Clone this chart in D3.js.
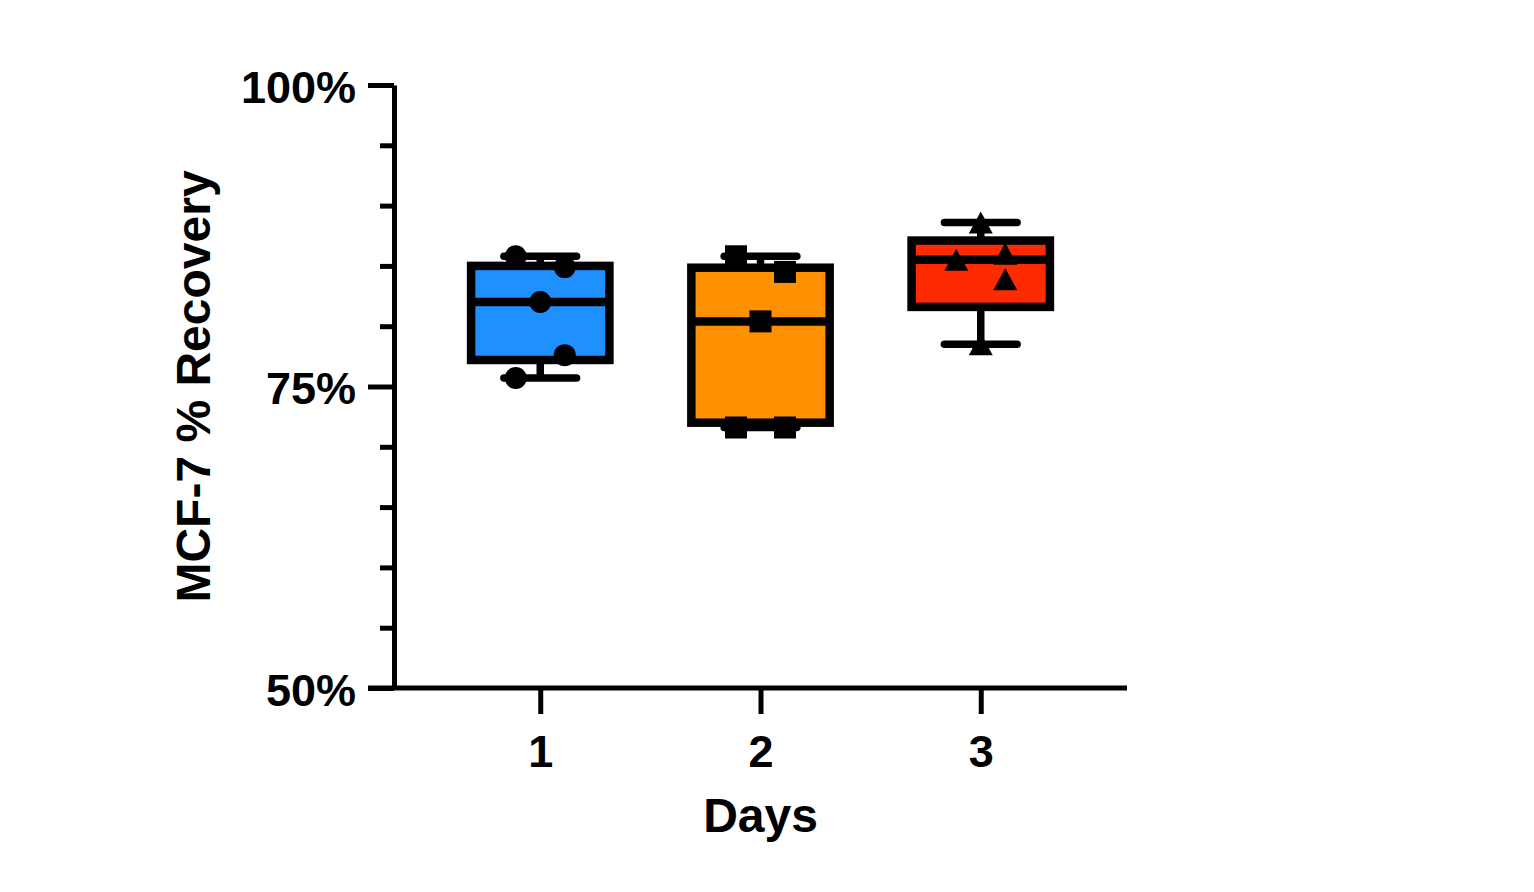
<!DOCTYPE html>
<html>
<head>
<meta charset="utf-8">
<script src="https://cdn.jsdelivr.net/npm/d3@7"></script>
<style>
  html, body { margin: 0; padding: 0; background: #fff; }
  svg { display: block; }
  text { font-family: "Liberation Sans", Arial, Helvetica, sans-serif; font-weight: bold; fill: #000; }
</style>
</head>
<body>
<svg id="chart" width="1534" height="892"></svg>
<script>
// ---------- data ----------
const days = ["1", "2", "3"];
// replicate values per day (percent recovery), in replicate order
const day1Values = [85.8, 84.9, 82.0, 75.7, 77.6];
const day2Values = [85.8, 84.5, 80.4, 71.6, 71.6];
const day3Values = [88.6, 85.5, 86.0, 83.9, 78.5];
// box edges (25th / 75th percentile) as drawn
const q1Values = [77.2, 72.0, 81.6];
const q3Values = [85.0, 84.85, 87.1];
const markerShapes = ["circle", "square", "triangle"];
const boxColors = ["#1E90FF", "#FF9100", "#FF2B00"];
const yMajorTicks = [50, 75, 100];
const yMinorTicks = [55, 60, 65, 70, 80, 85, 90, 95];
const yTitle = "MCF-7 % Recovery";
const xTitle = "Days";

const seriesValues = [day1Values, day2Values, day3Values];

// ---------- layout ----------
const svg = d3.select("#chart");
const plotTop = 85, plotBottom = 688, plotLeft = 394, plotRight = 1127;
const axisW = 5, majorLen = 26, minorLen = 14;
const boxStroke = 8.5, markerSize = 22;

const y = d3.scaleLinear().domain([50, 100]).range([plotBottom, plotTop]);
const x = d3.scalePoint().domain(days).range([plotLeft, plotRight]).padding(0.664);
const step = x.step();
const boxHalf = step * 0.314;
const capHalf = step * 0.165;
const swarmOffset = markerSize + 2.5;

// ---------- boxes ----------
const stats = days.map((d, i) => {
  const vals = seriesValues[i];
  return {
    day: d,
    color: boxColors[i],
    shape: markerShapes[i],
    values: vals,
    min: d3.min(vals),
    max: d3.max(vals),
    median: d3.median(vals),
    q1: q1Values[i],
    q3: q3Values[i]
  };
});

const g = svg.append("g");

stats.forEach(s => {
  const cx = x(s.day);
  const grp = g.append("g");
  // whiskers
  grp.append("line")
    .attr("x1", cx).attr("x2", cx)
    .attr("y1", y(s.max)).attr("y2", y(s.q3))
    .attr("stroke", "#000").attr("stroke-width", boxStroke - 1);
  grp.append("line")
    .attr("x1", cx).attr("x2", cx)
    .attr("y1", y(s.q1)).attr("y2", y(s.min))
    .attr("stroke", "#000").attr("stroke-width", boxStroke - 1);
  [s.max, s.min].forEach(v => {
    grp.append("line")
      .attr("x1", cx - capHalf).attr("x2", cx + capHalf)
      .attr("y1", y(v)).attr("y2", y(v))
      .attr("stroke", "#000").attr("stroke-width", boxStroke - 1)
      .attr("stroke-linecap", "round");
  });
  // box
  grp.append("rect")
    .attr("x", cx - boxHalf).attr("width", boxHalf * 2)
    .attr("y", y(s.q3)).attr("height", y(s.q1) - y(s.q3))
    .attr("fill", s.color)
    .attr("stroke", "#000").attr("stroke-width", boxStroke);
  // median
  grp.append("line")
    .attr("x1", cx - boxHalf).attr("x2", cx + boxHalf)
    .attr("y1", y(s.median)).attr("y2", y(s.median))
    .attr("stroke", "#000").attr("stroke-width", boxStroke);
});

// ---------- points (simple swarm: neighbours alternate sides) ----------
function swarm(vals) {
  const idx = vals.map((v, i) => i).sort((a, b) => vals[b] - vals[a]);
  const offsets = new Array(vals.length).fill(0);
  let groups = [], cur = [idx[0]];
  for (let k = 1; k < idx.length; k++) {
    const gap = y(vals[idx[k]]) - y(vals[idx[k - 1]]);
    if (gap < 26) cur.push(idx[k]); else { groups.push(cur); cur = [idx[k]]; }
  }
  groups.push(cur);
  groups.forEach(gr => {
    if (gr.length === 1) return;
    const firstData = d3.min(gr);
    const pos = gr.indexOf(firstData);
    gr.forEach((id, k) => {
      const sameSide = (Math.abs(k - pos) % 2) === 0;
      offsets[id] = sameSide ? -swarmOffset : swarmOffset;
    });
  });
  return offsets;
}

stats.forEach(s => {
  const cx = x(s.day);
  const offs = swarm(s.values);
  const pts = g.append("g");
  s.values.forEach((v, i) => {
    const px = cx + offs[i], py = y(v);
    if (s.shape === "circle") {
      pts.append("circle").attr("cx", px).attr("cy", py).attr("r", markerSize / 2).attr("fill", "#000");
    } else if (s.shape === "square") {
      pts.append("rect").attr("x", px - markerSize / 2).attr("y", py - markerSize / 2)
        .attr("width", markerSize).attr("height", markerSize).attr("fill", "#000");
    } else {
      const h = markerSize, w = markerSize + 2;
      pts.append("path")
        .attr("d", `M${px},${py - h / 2}L${px + w / 2},${py + h / 2}L${px - w / 2},${py + h / 2}Z`)
        .attr("fill", "#000");
    }
  });
});

// ---------- axes ----------
const yMinor = svg.append("g").attr("transform", `translate(${plotLeft},0)`)
  .call(d3.axisLeft(y).tickValues(yMinorTicks).tickSize(minorLen).tickFormat(""));
yMinor.select(".domain").remove();

const yAxis = svg.append("g").attr("transform", `translate(${plotLeft},0)`)
  .call(d3.axisLeft(y).tickValues(yMajorTicks).tickSize(majorLen).tickSizeOuter(0)
    .tickPadding(12).tickFormat(d => d + "%"));

const xAxis = svg.append("g").attr("transform", `translate(0,${plotBottom})`)
  .call(d3.axisBottom(x).tickSize(majorLen).tickPadding(21).tickSizeOuter(0));
xAxis.select(".domain").remove();
svg.append("line")
  .attr("x1", plotLeft - majorLen).attr("x2", plotRight)
  .attr("y1", plotBottom).attr("y2", plotBottom)
  .attr("stroke", "#000").attr("stroke-width", axisW);

svg.selectAll(".tick line, .domain").attr("stroke", "#000").attr("stroke-width", axisW);
yAxis.selectAll(".tick text").attr("dy", "0.38em");
svg.selectAll(".tick text")
  .style("font-family", '"Liberation Sans", Arial, sans-serif')
  .style("font-weight", "bold")
  .style("font-size", "45px")
  .attr("fill", "#000");

// ---------- titles ----------
svg.append("text")
  .attr("x", x("2")).attr("y", 832)
  .attr("text-anchor", "middle")
  .style("font-size", "48px")
  .text(xTitle);

svg.append("text")
  .attr("transform", `translate(210,${(plotTop + plotBottom) / 2}) rotate(-90)`)
  .attr("text-anchor", "middle")
  .style("font-size", "48px")
  .text(yTitle);
</script>
</body>
</html>
